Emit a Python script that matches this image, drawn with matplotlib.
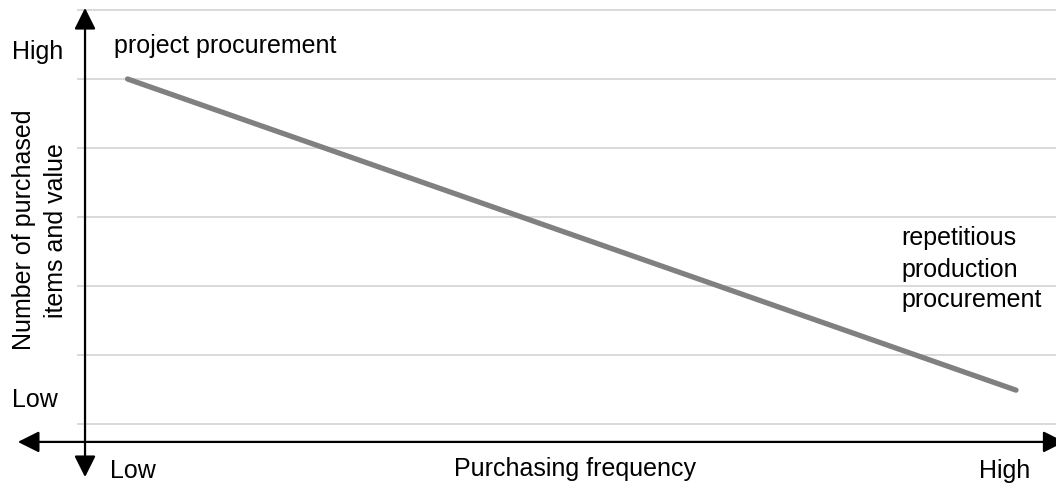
import matplotlib
matplotlib.use("Agg")
import matplotlib.pyplot as plt

plt.rcParams['font.family'] = ['Liberation Sans', 'DejaVu Sans']

# Trend: purchasing frequency (x) against number of purchased items and value (y)
frequency = [0.5, 10.95]
items_value = [5.0, 0.49]
grid_levels = [0, 1, 2, 3, 4, 5, 6]

fig = plt.figure(figsize=(10.56, 4.86), dpi=100)
ax = fig.add_axes([0, 0, 1, 1])
ax.set_xlim(-1.0, 11.42)
ax.set_ylim(-0.899, 6.145)
ax.axis('off')

# horizontal gridlines
for g in grid_levels:
    ax.plot([-0.085, 11.42], [g, g], color='#d9d9d9', lw=1.4, zorder=1)

# axes arrows
arrow = dict(arrowstyle='<|-|>,head_length=1.0,head_width=0.5', color='black',
             lw=1.6, shrinkA=0, shrinkB=0, mutation_scale=13)
ax.annotate('', xy=(0, 6.03), xytext=(0, -0.77), arrowprops=arrow, zorder=3)
ax.annotate('', xy=(11.52, -0.26), xytext=(-0.79, -0.26), arrowprops=arrow,
            zorder=3, annotation_clip=False)

# trend line
ax.plot(frequency, items_value, color='#808080', lw=3.8, solid_capstyle='round', zorder=2)

fs = 18
ax.text(-0.86, 5.283, 'High', fontsize=fs, ha='left', va='baseline')
ax.text(-0.86, 0.246, 'Low', fontsize=fs, ha='left', va='baseline')
ax.text(0.565, -0.783, 'Low', fontsize=fs, ha='center', va='baseline')
ax.text(10.81, -0.783, 'High', fontsize=fs, ha='center', va='baseline')
ax.text(5.765, -0.755, 'Purchasing frequency', fontsize=fs, ha='center', va='baseline')
ax.text(0.34, 5.377, 'project procurement', fontsize=fs, ha='left', va='baseline')

# end-of-line annotation, one text per line
for label, y in zip(['repetitious', 'production', 'procurement'], [2.594, 2.13, 1.696]):
    ax.text(9.60, y, label, fontsize=fs, ha='left', va='baseline')

ax.text(-0.53, 2.81, 'Number of purchased\nitems and value', fontsize=fs,
        ha='center', va='center', rotation=90, linespacing=1.38)

fig.savefig('out.png', dpi=100)
